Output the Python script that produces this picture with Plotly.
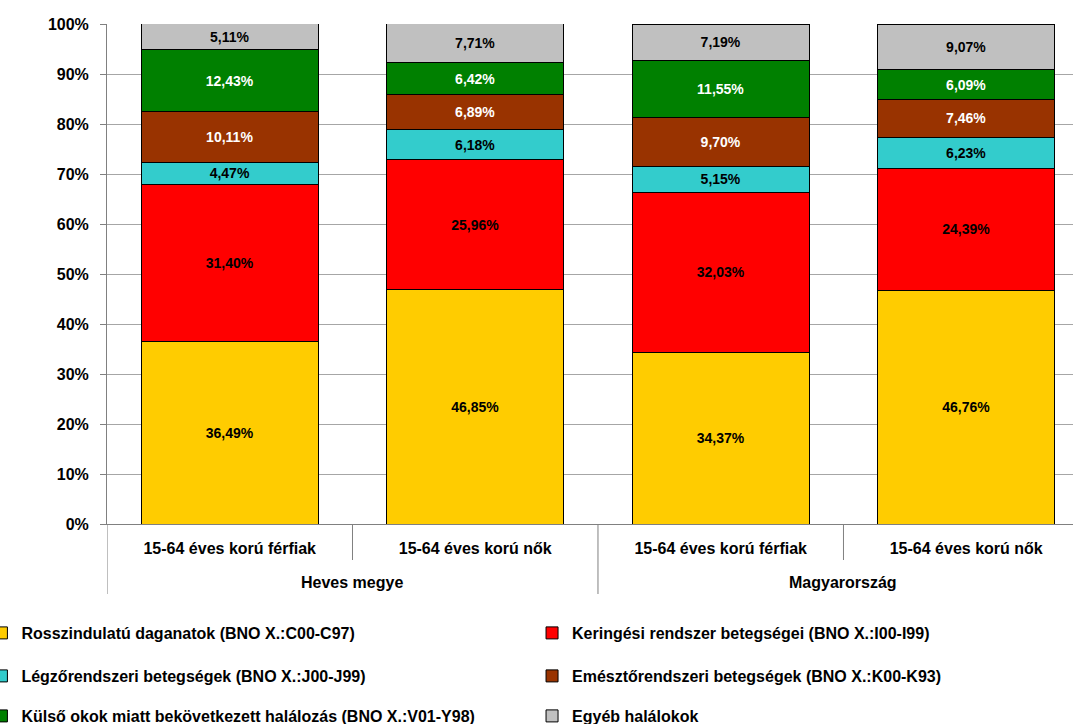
import plotly.graph_objects as go

categories = ["15-64 éves korú férfiak", "15-64 éves korú nők",
              "15-64 éves korú férfiak", "15-64 éves korú nők"]
groups = ["Heves megye", "Magyarország"]

series_names = [
    "Rosszindulatú daganatok (BNO X.:C00-C97)",
    "Keringési rendszer betegségei (BNO X.:I00-I99)",
    "Légzőrendszeri betegségek (BNO X.:J00-J99)",
    "Emésztőrendszeri betegségek (BNO X.:K00-K93)",
    "Külső okok miatt bekövetkezett halálozás (BNO X.:V01-Y98)",
    "Egyéb halálokok",
]
daganatok = [36.49, 46.85, 34.37, 46.76]
keringesi = [31.40, 25.96, 32.03, 24.39]
legzo = [4.47, 6.18, 5.15, 6.23]
emeszto = [10.11, 6.89, 9.70, 7.46]
kulso = [12.43, 6.42, 11.55, 6.09]
egyeb = [5.11, 7.71, 7.19, 9.07]
series_values = [daganatok, keringesi, legzo, emeszto, kulso, egyeb]

colors = ["#FFCC00", "#FF0000", "#33CCCC", "#993300", "#008000", "#C0C0C0"]
text_colors = ["#000000", "#000000", "#000000", "#FFFFFF", "#FFFFFF", "#000000"]

FONT = "Liberation Sans, Arial, sans-serif"
xpos = list(range(len(categories)))

# legend placement: two columns, three rows (paper coords)
legend_cols = [-0.13, 0.44]
legend_rows = [-0.218, -0.304, -0.384]

fig = go.Figure()
for i, (name, vals, col, tcol) in enumerate(zip(series_names, series_values, colors, text_colors)):
    lid = "legend" if i == 0 else f"legend{i + 1}"
    fig.add_trace(go.Bar(
        x=xpos, y=vals, name=name,
        marker=dict(color=col, line=dict(color="#000000", width=1)),
        width=0.72,
        text=[f"{v:.2f}%".replace(".", ",") for v in vals],
        textposition="inside", insidetextanchor="middle", textangle=0,
        textfont=dict(family=FONT, size=14, color=tcol, weight="bold"),
        legend=lid, showlegend=True,
        hoverinfo="skip",
    ))
    fig.update_layout({lid: dict(
        orientation="v", xref="paper", yref="paper",
        x=legend_cols[i % 2], y=legend_rows[i // 2],
        xanchor="left", yanchor="middle", itemwidth=30,
        font=dict(family=FONT, size=16, color="#000000", weight="bold"),
        bgcolor="rgba(0,0,0,0)", visible=True,
    )})

fig.update_layout(
    showlegend=True,
    barmode="stack",
    width=1073, height=724,
    margin=dict(l=107, r=0, t=24, b=200, autoexpand=False),
    plot_bgcolor="#FFFFFF", paper_bgcolor="#FFFFFF",
    font=dict(family=FONT, size=12, color="#000000"),
    uniformtext=dict(minsize=14, mode="show"),
)

fig.update_yaxes(
    range=[0, 100], dtick=10, ticksuffix="%",
    showgrid=True, gridcolor="#A6A6A6", gridwidth=1,
    showline=True, linecolor="#808080", linewidth=1,
    ticks="outside", ticklen=6, tickcolor="#808080", ticklabelstandoff=8,
    tickfont=dict(family=FONT, size=16, color="#000000", weight="bold"),
    zeroline=False, automargin=False,
)
fig.update_xaxes(
    range=[-0.5, 3.435],
    tickvals=xpos, ticktext=categories,
    showgrid=False, showline=True, linecolor="#808080", linewidth=1,
    ticks="", ticklabelstandoff=10,
    tickfont=dict(family=FONT, size=16, color="#000000", weight="bold"),
    zeroline=False, automargin=False,
)

# axis dividers below the category labels
for xb, depth in [(-0.5, -0.14), (0.5, -0.072), (1.5, -0.14), (2.5, -0.072), (3.5, -0.14)]:
    fig.add_shape(type="line", xref="x", yref="paper", x0=xb, x1=xb, y0=0, y1=depth,
                  line=dict(color="#808080", width=1))

for i, g in enumerate(groups):
    fig.add_annotation(x=0.5 + 2 * i, y=-0.116, xref="x", yref="paper",
                       text=g, showarrow=False, yanchor="middle",
                       font=dict(family=FONT, size=16, color="#000000", weight="bold"))

fig.write_html("out.html", config={"displayModeBar": False},
               post_script="document.body.style.margin='0';")
